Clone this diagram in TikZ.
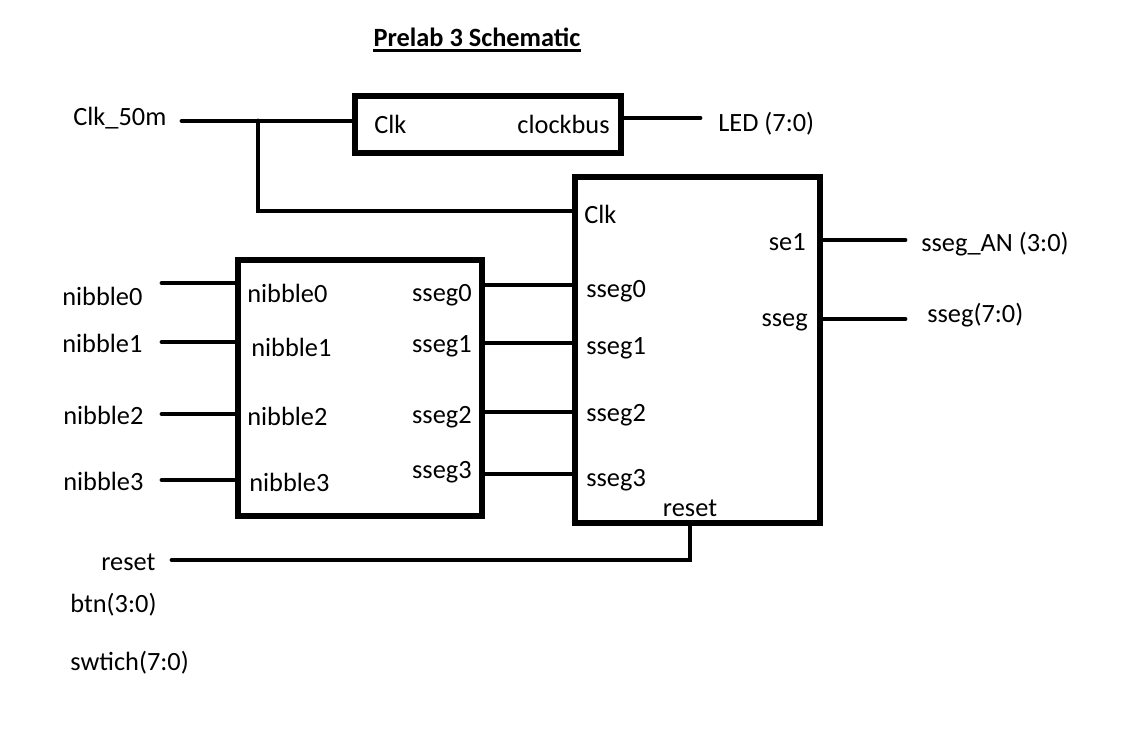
\documentclass[tikz,border=0pt]{standalone}
\usepackage{fontspec}
\setmainfont{Carlito}
\usepackage{tikz}
\usetikzlibrary{positioning, calc}

\begin{document}
\begin{tikzpicture}[
  x=0.02cm, y=-0.02cm,
  box/.style={draw, line width=3pt, inner sep=0pt, outer sep=0pt},
  wire/.style={line width=2.8pt, line cap=round},
  lbl/.style={font=\fontsize{15}{18}\selectfont, inner sep=0pt},
  port/.style={font=\fontsize{15}{18}\selectfont, inner sep=0pt},
]
  \useasboundingbox (0,0) rectangle (1124,754);

  \node[lbl, font=\fontsize{15}{18}\selectfont\bfseries, inner ysep=2.2pt] (title) at (477,37) {Prelab 3 Schematic};
  \draw[line width=1.6pt] (title.south west) -- (title.south east);

  % blocks
  \node[box, minimum width=5.32cm, minimum height=1.14cm] (clkdiv) at (488,124.5) {};
  \node[box, minimum width=4.9cm, minimum height=6.92cm]  (disp)   at (697.5,350) {};
  \node[box, minimum width=4.88cm, minimum height=5.12cm] (conv)   at (360,388) {};

  % ports of the clock block
  \node[port, anchor=west] (pclk)   at (374,124) {Clk};
  \node[port, anchor=east] (pbus)   at (610,124) {clockbus};

  % ports of the display block
  \node[port, anchor=west] (dclk)   at (584,214) {Clk};
  \node[port, anchor=west] (dseg0)  at (586,291) {sseg0};
  \node[port, anchor=west] (dseg1)  at (586,348) {sseg1};
  \node[port, anchor=west] (dseg2)  at (586,415) {sseg2};
  \node[port, anchor=west] (dseg3)  at (586,480) {sseg3};
  \node[port, anchor=east] (dse1)   at (806,242) {se1};
  \node[port, anchor=east] (dsseg)  at (808,322) {sseg};
  \node[port] (drst) at (690,508) {reset};

  % ports of the converter block
  \node[port, anchor=west] (cnib0)  at (247,293) {nibble0};
  \node[port, anchor=west] (cnib1)  at (251,347) {nibble1};
  \node[port, anchor=west] (cnib2)  at (247,416) {nibble2};
  \node[port, anchor=west] (cnib3)  at (249,482) {nibble3};
  \node[port, anchor=east] (cseg0)  at (472,295) {sseg0};
  \node[port, anchor=east] (cseg1)  at (472,346) {sseg1};
  \node[port, anchor=east] (cseg2)  at (472,417) {sseg2};
  \node[port, anchor=east] (cseg3)  at (472,472) {sseg3};

  % outside signal names
  \node[lbl, anchor=west] (clk50)  at (73,118)  {Clk\_50m};
  \node[lbl, anchor=west] (led)    at (718,124) {LED (7:0)};
  \node[lbl, anchor=west] (segan)  at (921,244) {sseg\_AN (3:0)};
  \node[lbl, anchor=west] (segout) at (927,315) {sseg(7:0)};
  \node[lbl, anchor=west] (nib0)   at (62,296)  {nibble0};
  \node[lbl, anchor=west] (nib1)   at (62,343)  {nibble1};
  \node[lbl, anchor=west] (nib2)   at (63,415)  {nibble2};
  \node[lbl, anchor=west] (nib3)   at (63,481)  {nibble3};
  \node[lbl, anchor=west] (rst)    at (101,562) {reset};
  \node[lbl, anchor=west] (btn)    at (70,605)  {btn(3:0)};
  \node[lbl, anchor=west] (sw)     at (70,663)  {swtich(7:0)};

  % wire ends
  \coordinate (clkin) at (182,121);
  \coordinate (tap)   at (258,121);
  \coordinate (ledw)  at (700,118);
  \coordinate (anw)   at (905,240);
  \coordinate (segw)  at (905,319);
  \coordinate (rstw)  at (172,560);
  \coordinate (in0)   at (162,283);
  \coordinate (in1)   at (162,342);
  \coordinate (in2)   at (162,414);
  \coordinate (in3)   at (162,480);

  \draw[wire] (clkin) -- (clkin -| clkdiv.west);
  \draw[wire] (tap) |- (disp.west |- 0,211);
  \draw[wire] (clkdiv.east |- ledw) -- (ledw);

  \draw[wire] (disp.east |- anw) -- (anw);
  \draw[wire] (disp.east |- segw) -- (segw);
  \draw[wire] (rstw) -| (disp.south -| 690,0);

  \draw[wire] (in0) -- (in0 -| conv.west);
  \draw[wire] (in1) -- (in1 -| conv.west);
  \draw[wire] (in2) -- (in2 -| conv.west);
  \draw[wire] (in3) -- (in3 -| conv.west);

  \draw[wire] (conv.east |- 0,285) -- (disp.west |- 0,285);
  \draw[wire] (conv.east |- 0,343) -- (disp.west |- 0,343);
  \draw[wire] (conv.east |- 0,412) -- (disp.west |- 0,412);
  \draw[wire] (conv.east |- 0,474) -- (disp.west |- 0,474);
\end{tikzpicture}
\end{document}
